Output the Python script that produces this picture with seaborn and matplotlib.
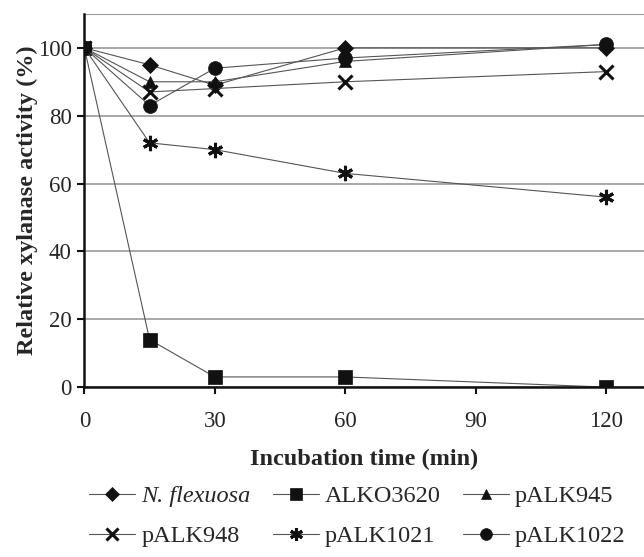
import pandas as pd
import seaborn as sns
import matplotlib.pyplot as plt
from matplotlib.lines import Line2D

# data
time_min = [0, 15, 30, 60, 120]
n_flexuosa = [100, 95, 89, 100, 100]
alko3620 = [100, 14, 3, 3, 0]
palk945 = [100, 90, 90, 96, 101]
palk948 = [100, 87, 88, 90, 93]
palk1021 = [100, 72, 70, 63, 56]
palk1022 = [100, 83, 94, 97, 101]

series_names = ['N. flexuosa', 'ALKO3620', 'pALK945', 'pALK948', 'pALK1021', 'pALK1022']
series_values = [n_flexuosa, alko3620, palk945, palk948, palk1021, palk1022]
series_markers = ['D', 's', '^', 'x', (6, 2, 0), 'o']
marker_sizes = [8, 10, 9, 10, 11, 10]

sns.set_style('white')
plt.rcParams['font.family'] = ['Liberation Serif', 'DejaVu Serif']

fig = plt.figure(figsize=(6.44, 5.57), dpi=100)
ax = fig.add_axes([0.131, 0.305, 0.869, 0.67])


def edge_w(mk):
    return 2.2 if mk in ('x', (6, 2, 0)) else 0.5


for name, vals, mk, ms in zip(series_names, series_values, series_markers, marker_sizes):
    df = pd.DataFrame({'time': time_min, 'activity': vals})
    sns.lineplot(data=df, x='time', y='activity', ax=ax, color='#555555', lw=0.8,
                 marker=mk, markersize=ms, markerfacecolor='#111111',
                 markeredgecolor='#111111', markeredgewidth=edge_w(mk))

ax.set_xlim(0, 128.7)
ax.set_ylim(0, 110)
ax.set_xticks([0, 30, 60, 90, 120])
ax.set_yticks([0, 20, 40, 60, 80, 100])
ax.yaxis.grid(True, color='#999999', lw=1.2)
ax.xaxis.grid(False)
ax.axhline(110, color='#999999', lw=1.5)
for s in ['top', 'right']:
    ax.spines[s].set_visible(False)
for s in ['left', 'bottom']:
    ax.spines[s].set_color('#111111')
    ax.spines[s].set_linewidth(1.8)
ax.tick_params(axis='both', direction='out', length=5, width=1.5, color='#111111',
               labelsize=16.5, left=True, bottom=True)
ax.tick_params(axis='x', pad=12)
ax.tick_params(axis='y', pad=4)
ax.set_xlabel('Incubation time (min)', fontsize=17.5, fontweight='bold', labelpad=12)
ax.set_ylabel('Relative xylanase activity (%)', fontsize=17.5, fontweight='bold', labelpad=0)

handles = []
for mk, ms in zip(series_markers, marker_sizes):
    handles.append(Line2D([], [], color='#555555', lw=0.8, marker=mk, markersize=ms * 0.85,
                          markerfacecolor='#111111', markeredgecolor='#111111',
                          markeredgewidth=edge_w(mk)))
# row-major order for a 3-column legend
order = [0, 3, 1, 4, 2, 5]
leg = fig.legend([handles[i] for i in order], [series_names[i] for i in order],
                 loc='lower center', bbox_to_anchor=(0.555, -0.022), ncol=3,
                 frameon=False, fontsize=17.5, handlelength=1.9, handletextpad=0.25,
                 columnspacing=0.9, labelspacing=0.75)
for t in leg.get_texts():
    if t.get_text() == 'N. flexuosa':
        t.set_fontstyle('italic')

fig.savefig('out.png', dpi=100)
